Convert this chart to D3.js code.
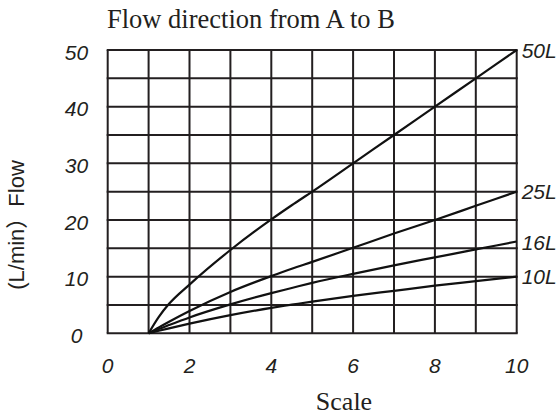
<!DOCTYPE html>
<html>
<head>
<meta charset="utf-8">
<script src="https://cdn.jsdelivr.net/npm/d3@7/dist/d3.min.js"></script>
<style>
  html, body { margin: 0; padding: 0; background: #fff; }
  svg { display: block; }
</style>
</head>
<body>
<div id="chart"></div>
<script>
// scale positions where the curves were read
const scalePoints = [1, 1.25, 1.5, 2, 3, 4, 4.5, 5, 6, 7, 8, 9, 10];

// flow (L/min) per valve size
const flow50 = [0, 2.9, 5.2, 8.6, 14.7, 20.1, 22.6, 25, 30, 35, 40, 45, 50];
const flow25 = [0, 1.05, 2.05, 3.95, 7.3, 10.1, 11.4, 12.6, 15.1, 17.6, 20, 22.5, 25];
const flow16 = [0, 0.75, 1.45, 2.8, 5.1, 7.1, 8.0, 8.9, 10.5, 12.0, 13.4, 14.8, 16.2];
const flow10 = [0, 0.45, 0.88, 1.7, 3.2, 4.5, 5.05, 5.6, 6.6, 7.5, 8.4, 9.2, 10];

const seriesNames = ['50L', '25L', '16L', '10L'];
const seriesValues = [flow50, flow25, flow16, flow10];
const labelValues = [50, 25, 16, 10];

const xTicks = [0, 2, 4, 6, 8, 10];
const yTicks = [0, 10, 20, 30, 40, 50];

const width = 560, height = 418;
const ink = '#231f20';

const svg = d3.select('#chart').append('svg')
  .attr('width', width)
  .attr('height', height);

const x = d3.scaleLinear().domain([0, 10]).range([107.7, 516.7]);
const y = d3.scaleLinear().domain([0, 50]).range([333.3, 50]);

// grid
const grid = svg.append('g').attr('stroke', ink).attr('stroke-width', 2);
grid.selectAll('line.v')
  .data(d3.range(0, 11))
  .enter().append('line')
  .attr('class', 'v')
  .attr('x1', d => x(d)).attr('x2', d => x(d))
  .attr('y1', y(0)).attr('y2', y(50));
grid.selectAll('line.h')
  .data(d3.range(0, 51, 5))
  .enter().append('line')
  .attr('class', 'h')
  .attr('x1', x(0) - 1).attr('x2', x(10) + 1)
  .attr('y1', d => y(d)).attr('y2', d => y(d));

// curves
const line = d3.line()
  .x((d, i) => x(scalePoints[i]))
  .y(d => y(d))
  .curve(d3.curveMonotoneX);

svg.append('g').selectAll('path')
  .data(seriesValues)
  .enter().append('path')
  .attr('d', line)
  .attr('fill', 'none')
  .attr('stroke', '#111')
  .attr('stroke-width', 2.2);

// curve labels
svg.append('g').selectAll('text')
  .data(seriesNames)
  .enter().append('text')
  .attr('x', x(10) + 5)
  .attr('y', (d, i) => y(labelValues[i]))
  .attr('dy', '0.36em')
  .style('font-family', '"Liberation Sans", Arial, sans-serif')
  .style('font-style', 'italic')
  .style('font-size', '21px')
  .style('fill', ink)
  .text(d => d);

// tick labels
svg.append('g').selectAll('text')
  .data(xTicks)
  .enter().append('text')
  .attr('x', d => x(d))
  .attr('y', 373)
  .attr('text-anchor', 'middle')
  .style('font-family', '"Liberation Sans", Arial, sans-serif')
  .style('font-style', 'italic')
  .style('font-size', '21px')
  .style('fill', ink)
  .text(d => d);

svg.append('g').selectAll('text')
  .data(yTicks)
  .enter().append('text')
  .attr('x', 76.5)
  .attr('y', d => y(d) + 2)
  .attr('dy', '0.36em')
  .attr('text-anchor', 'middle')
  .style('font-family', '"Liberation Sans", Arial, sans-serif')
  .style('font-style', 'italic')
  .style('font-size', '21px')
  .style('fill', ink)
  .text(d => d);

// titles
svg.append('text')
  .attr('x', 107)
  .attr('y', 28)
  .style('font-family', '"Liberation Serif", "Times New Roman", serif')
  .style('font-size', '26.5px')
  .style('fill', ink)
  .text('Flow direction from A to B');

svg.append('text')
  .attr('x', 344)
  .attr('y', 410)
  .attr('text-anchor', 'middle')
  .style('font-family', '"Liberation Serif", "Times New Roman", serif')
  .style('font-size', '26px')
  .style('fill', ink)
  .text('Scale');

svg.append('text')
  .attr('transform', 'translate(24,225) rotate(-90)')
  .attr('text-anchor', 'middle')
  .style('font-family', '"Liberation Sans", Arial, "Noto Sans CJK SC", sans-serif')
  .style('font-size', '22px')
  .style('fill', ink)
  .text('(L/min）Flow');
</script>
</body>
</html>
